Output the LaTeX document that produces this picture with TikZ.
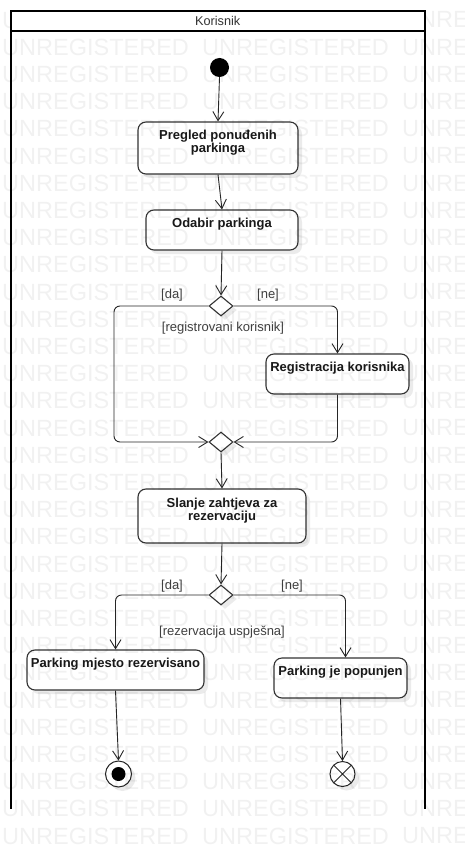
\documentclass[tikz,border=0pt]{standalone}
\usepackage{fontspec}
\setmainfont{Liberation Sans}
\usetikzlibrary{arrows.meta,shapes.geometric,shadows}
\newcommand{\acttxt}[4]{\parbox[c][#2][t]{#1}{\centering\rule{0pt}{#3}#4}}
\tikzset{
  shd/.style={drop shadow={shadow xshift=4pt, shadow yshift=-4pt, opacity=0.08, fill=black}},
  act/.style={rectangle, draw=black!80, line width=1.1pt, rounded corners=8pt, fill=white,
    inner sep=0pt, font=\fontsize{13}{13}\selectfont\bfseries, text=black!90, shd},
  dec/.style={diamond, draw=black!80, line width=1.1pt, fill=white, minimum width=24pt,
    minimum height=20pt, inner sep=0pt, shd},
  initnode/.style={circle, fill=black, minimum size=19pt, inner sep=0pt},
  finnode/.style={circle, draw=black!85, line width=1pt, fill=white, minimum size=26pt, inner sep=0pt, shd,
    path picture={\fill[black] (path picture bounding box.center) circle[radius=7pt];}},
  ffnode/.style={circle, draw=black!85, line width=1pt, fill=white, minimum size=25pt, inner sep=0pt, shd,
    path picture={\draw[line width=1pt] (path picture bounding box.north west) -- (path picture bounding box.south east)
      (path picture bounding box.north east) -- (path picture bounding box.south west);}},
  flow/.style={draw=black!85, line width=0.9pt, -{Straight Barb[length=9pt,width=11pt,line width=0.9pt]}},
  lbl/.style={font=\fontsize{13}{13}\selectfont, text=black!75, inner sep=0pt},
  wm/.style={anchor=west, inner sep=0pt, font=\fontsize{23.5}{23.5}\selectfont, text=black, text opacity=0.055},
}
\begin{document}
\begin{tikzpicture}[x=1pt, y=-1pt]
\useasboundingbox (0,0) rectangle (465,850);
\fill[white] (0,0) rectangle (465,850);

% activities
\node[act] (b1) at (218,148) {\acttxt{160pt}{52pt}{17.5pt}{Pregled ponuđenih\\parkinga}};
\node[act] (b2) at (222,230) {\acttxt{152pt}{40pt}{17.5pt}{Odabir parkinga}};
\node[act] (b3) at (337.5,374) {\acttxt{143pt}{40pt}{17.5pt}{Registracija korisnika}};
\node[act] (b4) at (222,516) {\acttxt{168pt}{54pt}{18.5pt}{Slanje zahtjeva za\\rezervaciju}};
\node[act] (b5) at (115.5,670) {\acttxt{177pt}{40pt}{17.5pt}{Parking mjesto rezervisano}};
\node[act] (b6) at (340.5,678) {\acttxt{133pt}{40pt}{17.5pt}{Parking je popunjen}};

% control nodes
\node[initnode] (init) at (219.5,67.5) {};
\node[dec] (d1) at (221,306) {};
\node[dec] (d2) at (221,442) {};
\node[dec] (d3) at (221,595) {};
\node[finnode] (fin) at (118.5,774) {};
\node[ffnode] (ff) at (342.5,774) {};
\coordinate (lx) at (114,374);

% connectors
\draw[flow] (init.south) -- (b1.north);
\draw[flow] (b1.south) -- (b2.north);
\draw[flow] (b2.south) -- (d1.north);
\draw[flow, rounded corners=6pt] (d1.west) -| (lx) |- (d2.west);
\draw[flow, rounded corners=6pt] (d1.east) -| (b3.north);
\draw[flow, rounded corners=6pt] (b3.south) |- (d2.east);
\draw[flow] (d2.south) -- (b4.north);
\draw[flow] (b4.south) -- (d3.north);
\draw[flow, rounded corners=6pt] (d3.west) -| (b5.north);
\draw[flow, rounded corners=6pt] (d3.east) -| ([xshift=5pt]b6.north);
\draw[flow] (b5.south) -- (fin.north);
\draw[flow] (b6.south) -- (ff.north);

% guards
\node[lbl] (g1) at (172,295) {[da]};
\node[lbl] (g2) at (268,295) {[ne]};
\node[lbl] (g3) at (223,328) {[registrovani korisnik]};
\node[lbl] (g4) at (172,586) {[da]};
\node[lbl] (g5) at (292,586) {[ne]};
\node[lbl] (g6) at (222,632) {[rezervacija uspješna]};

% swimlane sides
\draw[line width=2.4pt] (10.7,31) -- (10.7,809);
\draw[line width=2.4pt] (424.7,31) -- (424.7,809);

% watermark
\foreach \k in {0,...,30} {
  \node[wm] (wa\k) at (2,20+27.2*\k) {UNREGISTERED};
  \node[wm] (wb\k) at (202,20+27.2*\k) {UNREGISTERED};
  \node[wm] (wc\k) at (402,20+27.2*\k) {UNRE};
}

% swimlane header
\node[draw=black, line width=2.4pt, fill=white, minimum width=414pt, minimum height=20.5pt,
  inner sep=0pt, font=\fontsize{12.7}{13}\selectfont, text=black!80] (lane) at (217.7,21) {Korisnik};
\end{tikzpicture}
\end{document}
